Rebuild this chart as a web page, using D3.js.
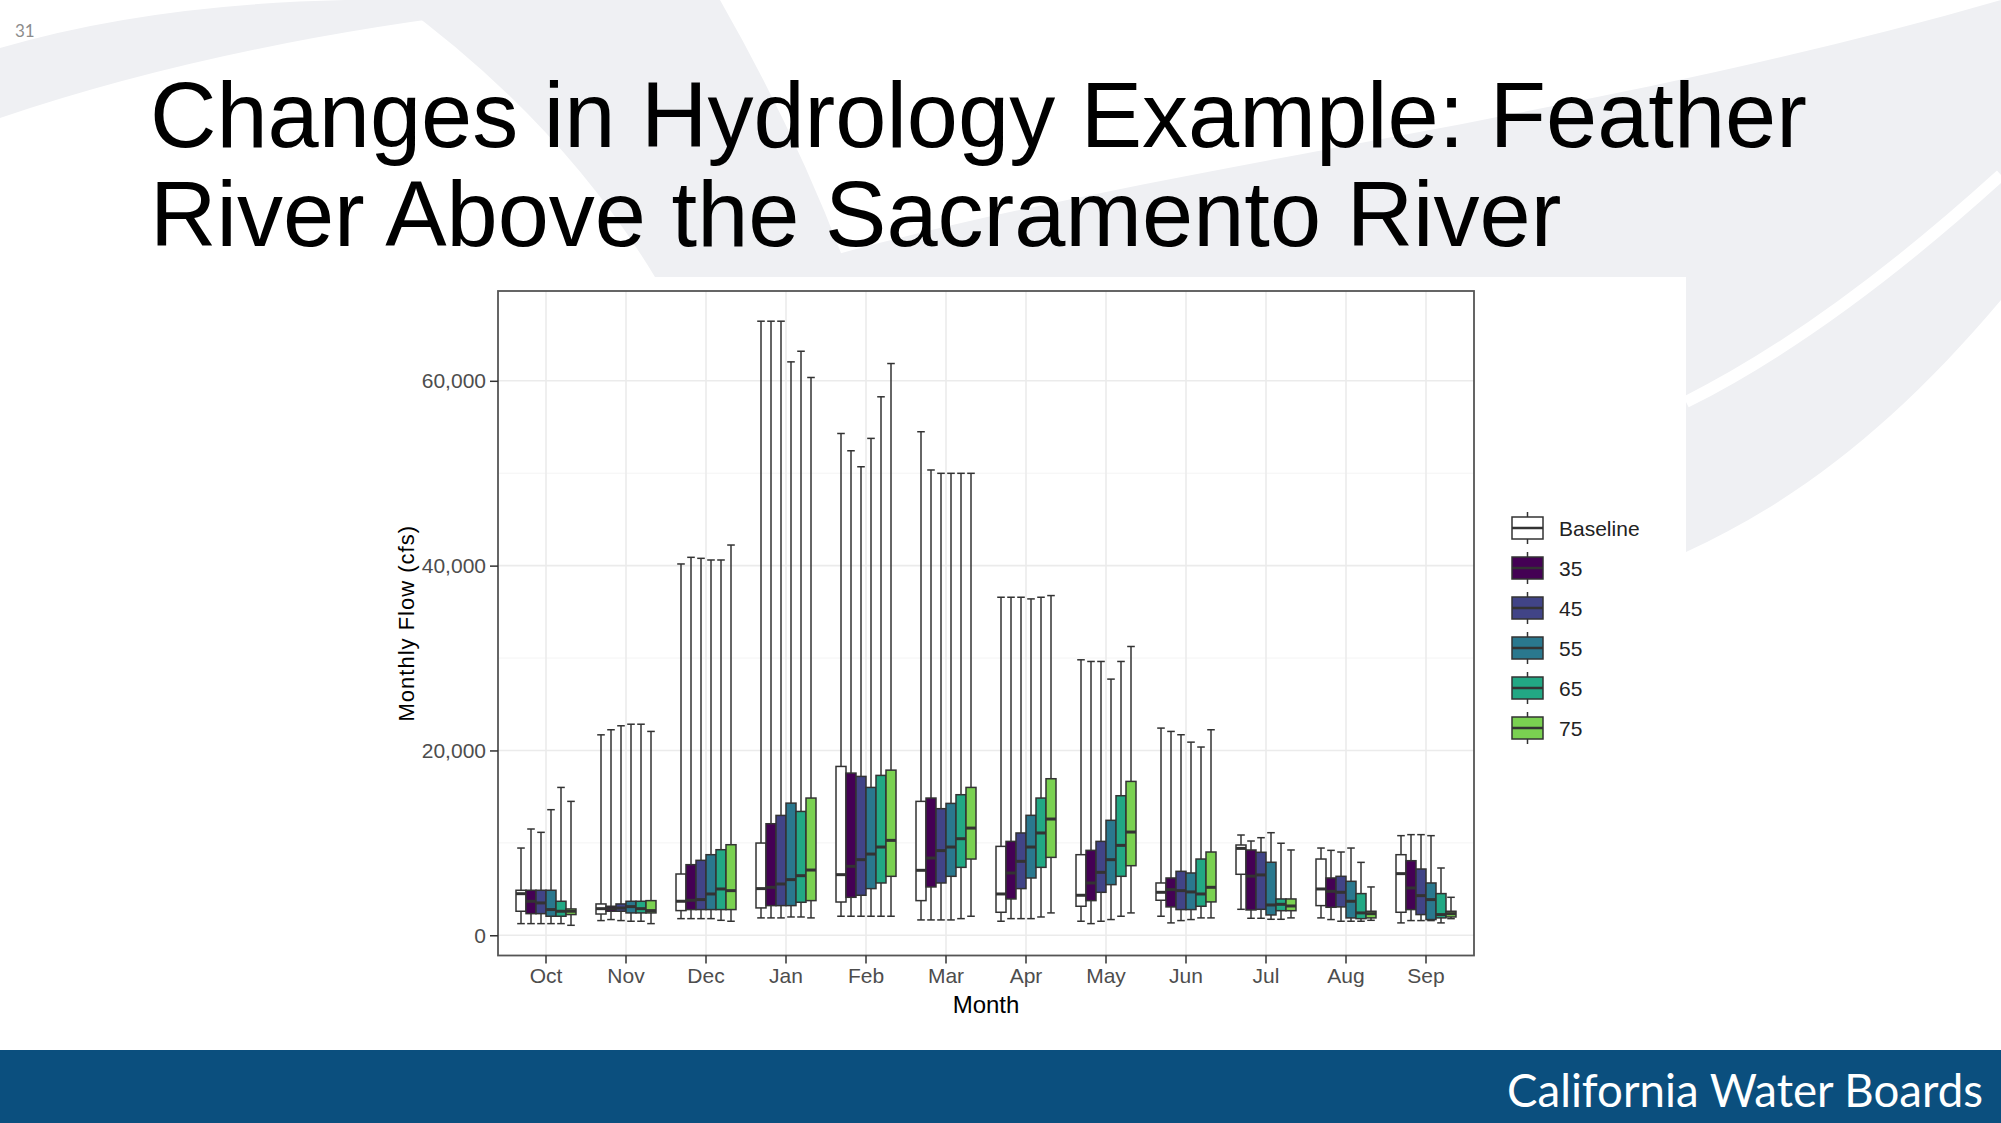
<!DOCTYPE html>
<html>
<head>
<meta charset="utf-8">
<script src="https://cdn.jsdelivr.net/npm/d3@7"></script>
<style>
  body { margin: 0; background: #fff; }
  svg { display: block; }
</style>
</head>
<body>
<script>
// Months on the x axis
const months = ["Oct", "Nov", "Dec", "Jan", "Feb", "Mar", "Apr", "May", "Jun", "Jul", "Aug", "Sep"];
const seriesNames = ["Baseline", "35", "45", "55", "65", "75"];

// each row: [whisker low, Q1, median, Q3, whisker high], one row per month (Oct..Sep)
const baseline = [
  [1260, 2600, 4500, 4870, 9440], [1590, 2300, 2880, 3390, 21690], [1800, 2670, 3680, 6630, 40180],
  [1880, 2960, 5050, 9980, 66450], [2060, 3600, 6560, 18270, 54300], [1660, 3750, 7030, 14490, 54490],
  [1520, 2490, 4470, 9620, 36580], [1520, 3140, 4330, 8720, 29810], [2060, 3790, 4650, 5660, 22420],
  [2810, 6600, 9400, 9770, 10850], [1880, 3210, 5010, 8250, 9440], [1340, 2490, 6670, 8720, 10780]
];
const s35 = [
  [1260, 2340, 3680, 4870, 11500], [1700, 2600, 2880, 3140, 22240], [1800, 2780, 3790, 7640, 40900],
  [1880, 3210, 5190, 12070, 66450], [2060, 4110, 7460, 17550, 52430], [1660, 5230, 8360, 14850, 50350],
  [1800, 3930, 6740, 10160, 36580], [1260, 3750, 5660, 9190, 29630], [1340, 3070, 4940, 6200, 22060],
  [1840, 2740, 6400, 9230, 10200], [1700, 3030, 4760, 6200, 9190], [1590, 2780, 5120, 8070, 10890]
];
const s45 = [
  [1260, 2340, 3500, 4870, 11140], [1590, 2600, 2950, 3390, 22670], [1800, 2780, 3860, 8110, 40790],
  [1880, 3210, 5550, 12970, 66450], [2060, 4330, 8180, 17190, 50700], [1660, 5660, 9160, 13700, 49990],
  [1800, 5050, 8000, 11070, 36580], [1520, 4650, 6810, 10160, 29630], [1590, 2780, 4830, 6920, 21700],
  [1840, 2810, 6530, 8980, 10560], [1520, 3070, 4650, 6380, 9010], [1590, 2240, 4290, 7170, 10890]
];
const s55 = [
  [1260, 2060, 2780, 4870, 13590], [1520, 2420, 3100, 3680, 22840], [1800, 2780, 4470, 8720, 40610],
  [1980, 3210, 6020, 14300, 62050], [2060, 5050, 8790, 16000, 53770], [1660, 6380, 9550, 14270, 49990],
  [1800, 6200, 9550, 12980, 36400], [1700, 5480, 8180, 12440, 27720], [1700, 2780, 4690, 6740, 20900],
  [1730, 2200, 3280, 7900, 11100], [1520, 1880, 3680, 5840, 9440], [1590, 1700, 3860, 5660, 10780]
];
const s65 = [
  [1260, 2060, 2600, 3680, 16000], [1520, 2420, 2880, 3680, 22840], [1620, 2780, 5010, 9260, 40610],
  [1980, 3570, 6450, 13400, 63200], [2060, 5660, 9550, 17300, 58270], [1800, 7350, 10450, 15210, 49990],
  [1980, 7350, 11070, 14850, 36580], [2060, 6380, 9730, 15100, 29630], [1880, 3140, 4470, 8250, 20370],
  [1730, 2660, 3350, 3930, 9960], [1520, 1800, 2420, 4510, 7890], [1340, 1880, 2240, 4510, 7280]
];
const s75 = [
  [1080, 2240, 2600, 2850, 14490], [1260, 2420, 2670, 3750, 22060], [1520, 2780, 4830, 9800, 42230],
  [1880, 3750, 7060, 14850, 60360], [2060, 6380, 10270, 17870, 61870], [2060, 8250, 11600, 16000, 49990],
  [2420, 8430, 12580, 16940, 36760], [2420, 7530, 11170, 16650, 31250], [1880, 3610, 5190, 9010, 22240],
  [1880, 2660, 3170, 3930, 9230], [1620, 1880, 2340, 2600, 5230], [1800, 1980, 2340, 2600, 4110]
];
const yTicks = [0, 20000, 40000, 60000];
const yMinor = [10000, 30000, 50000];

const fills = ["#ffffff", "#440154", "#414487", "#2A788E", "#22A884", "#7AD151"];
const seriesData = [baseline, s35, s45, s55, s65, s75];

const W = 2001, H = 1123;
const svg = d3.select("body").append("svg").attr("width", W).attr("height", H);

// ---- slide background swooshes
const bg = svg.append("g").attr("fill", "#eff0f3");
bg.append("path").attr("d", "M0,48 Q180,-5 430,0 L600,0 Q260,30 0,118 Z");
bg.append("path").attr("d", "M395,0 L720,0 Q800,140 850,277 L655,277 Q560,120 395,0 Z");
bg.append("path").attr("d", "M760,277 C1100,170 1550,130 2001,0 L2001,300 C1900,420 1800,500 1686,552 L1686,277 Z");
svg.append("path").attr("d", "M1686,402 Q1830,330 2001,175")
  .attr("fill", "none").attr("stroke", "#fff").attr("stroke-width", 12);

// white chart picture area
svg.append("rect").attr("x", 300).attr("y", 277).attr("width", 1386).attr("height", 772).attr("fill", "#fff");

// ---- slide text
svg.append("text").attr("x", 15).attr("y", 37).text("31")
  .attr("font-family", "Lato, 'Open Sans', sans-serif").attr("font-size", 17).attr("fill", "#8c8c8c");

const title = svg.append("g").attr("font-family", "'Liberation Sans', Arial, sans-serif")
  .attr("font-size", 92).attr("fill", "#000");
title.append("text").attr("x", 150).attr("y", 147).text("Changes in Hydrology Example: Feather");
title.append("text").attr("x", 150).attr("y", 246).text("River Above the Sacramento River");

// footer band
svg.append("rect").attr("x", 0).attr("y", 1050).attr("width", W).attr("height", H - 1050).attr("fill", "#0b4f7e");
svg.append("text").attr("x", 1983).attr("y", 1107).attr("text-anchor", "end")
  .attr("font-family", "Lato, 'Open Sans', sans-serif").attr("font-size", 46).attr("fill", "#fff")
  .attr("textLength", 476).attr("lengthAdjust", "spacingAndGlyphs")
  .text("California Water Boards");

// ---- plot panel
const panel = { left: 498, right: 1474, top: 291, bottom: 955.5 };

const allVals = seriesData.flat(2);
const lo = d3.min(allVals), hi = d3.max(allVals), pad = (hi - lo) * 0.05;
const y = d3.scaleLinear().domain([lo - pad, hi + pad]).range([panel.bottom, panel.top]);

const x = d3.scaleBand().domain(months).range([panel.left, panel.right])
  .paddingInner(0).paddingOuter(0.1);
const step = x.step();
const xs = d3.scaleBand().domain(seriesNames).range([-0.375 * step, 0.375 * step]);
const bw = xs.bandwidth();

const plot = svg.append("g");

// grid
plot.selectAll("line.minor").data(yMinor).join("line")
  .attr("x1", panel.left).attr("x2", panel.right)
  .attr("y1", d => y(d)).attr("y2", d => y(d))
  .attr("stroke", "#f4f4f4").attr("stroke-width", 1);
plot.selectAll("line.ymaj").data(yTicks).join("line")
  .attr("x1", panel.left).attr("x2", panel.right)
  .attr("y1", d => y(d)).attr("y2", d => y(d))
  .attr("stroke", "#ebebeb").attr("stroke-width", 1.6);
plot.selectAll("line.xmaj").data(months).join("line")
  .attr("x1", d => x(d) + step / 2).attr("x2", d => x(d) + step / 2)
  .attr("y1", panel.top).attr("y2", panel.bottom)
  .attr("stroke", "#ebebeb").attr("stroke-width", 1.6);

// boxes
const boxes = [];
seriesNames.forEach((s, si) => {
  months.forEach((m, mi) => {
    const [w0, q1, med, q3, w1] = seriesData[si][mi];
    boxes.push({ s, si, m, w0, q1, med, q3, w1, cx: x(m) + step / 2 + xs(s) + bw / 2 });
  });
});

const bx = plot.selectAll("g.box").data(boxes).join("g").attr("class", "box")
  .attr("stroke", "#333").attr("stroke-width", 1.5);
bx.append("line")
  .attr("x1", d => d.cx).attr("x2", d => d.cx)
  .attr("y1", d => y(d.w0)).attr("y2", d => y(d.w1));
bx.append("line")
  .attr("x1", d => d.cx - bw * 0.38).attr("x2", d => d.cx + bw * 0.38)
  .attr("y1", d => y(d.w1)).attr("y2", d => y(d.w1));
bx.append("line")
  .attr("x1", d => d.cx - bw * 0.38).attr("x2", d => d.cx + bw * 0.38)
  .attr("y1", d => y(d.w0)).attr("y2", d => y(d.w0));
bx.append("rect")
  .attr("x", d => d.cx - bw / 2).attr("width", bw)
  .attr("y", d => y(d.q3)).attr("height", d => y(d.q1) - y(d.q3))
  .attr("fill", d => fills[d.si]);
bx.append("line")
  .attr("x1", d => d.cx - bw / 2).attr("x2", d => d.cx + bw / 2)
  .attr("y1", d => y(d.med)).attr("y2", d => y(d.med))
  .attr("stroke-width", 3);

// panel border
plot.append("rect").attr("x", panel.left).attr("y", panel.top)
  .attr("width", panel.right - panel.left).attr("height", panel.bottom - panel.top)
  .attr("fill", "none").attr("stroke", "#555").attr("stroke-width", 1.8);

// axes
const font = "'Liberation Sans', Arial, sans-serif";
const yAxis = svg.append("g").attr("transform", `translate(${panel.left},0)`)
  .call(d3.axisLeft(y).tickValues(yTicks).tickFormat(d3.format(",")).tickSize(8).tickPadding(4));
const xAxis = svg.append("g").attr("transform", `translate(0,${panel.bottom})`)
  .call(d3.axisBottom(x).tickSize(8).tickPadding(5));
[yAxis, xAxis].forEach(a => {
  a.select(".domain").remove();
  a.selectAll(".tick line").attr("stroke", "#333").attr("stroke-width", 1.5);
  a.selectAll(".tick text").attr("font-family", font).attr("font-size", 21).attr("fill", "#4d4d4d");
});

svg.append("text").attr("x", (panel.left + panel.right) / 2).attr("y", 1013)
  .attr("text-anchor", "middle").attr("font-family", font).attr("font-size", 24).attr("fill", "#000")
  .text("Month");
svg.append("text").attr("transform", `translate(414,${(panel.top + panel.bottom) / 2}) rotate(-90)`)
  .attr("text-anchor", "middle").attr("font-family", font).attr("font-size", 22).attr("fill", "#000")
  .attr("letter-spacing", 1)
  .text("Monthly Flow (cfs)");

// legend
const leg = svg.append("g").attr("transform", "translate(1512,528)");
const key = leg.selectAll("g").data(seriesNames).join("g")
  .attr("transform", (d, i) => `translate(0,${i * 40})`);
key.append("line").attr("x1", 15.5).attr("x2", 15.5).attr("y1", -16).attr("y2", 16)
  .attr("stroke", "#333").attr("stroke-width", 1.5);
key.append("rect").attr("x", 0).attr("y", -11).attr("width", 31).attr("height", 22)
  .attr("fill", (d, i) => fills[i]).attr("stroke", "#333").attr("stroke-width", 1.5);
key.append("line").attr("x1", 0).attr("x2", 31).attr("y1", 0).attr("y2", 0)
  .attr("stroke", "#333").attr("stroke-width", 2.5);
key.append("text").attr("x", 47).attr("y", 7.5).text(d => d)
  .attr("font-family", font).attr("font-size", 21).attr("fill", "#222");
</script>
</body>
</html>
